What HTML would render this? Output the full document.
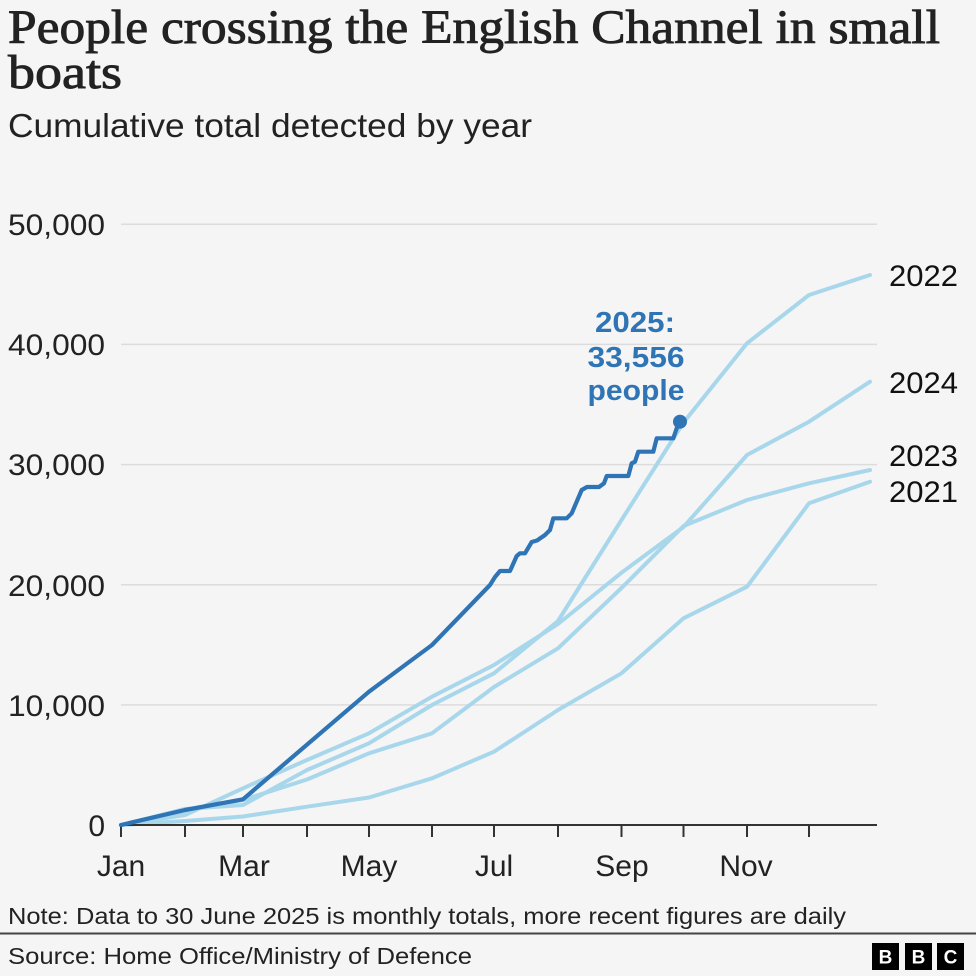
<!DOCTYPE html>
<html>
<head>
<meta charset="utf-8">
<style>
  html,body{margin:0;padding:0;background:#f5f5f5;}
  svg{display:block;}
</style>
</head>
<body>
<svg width="976" height="976" viewBox="0 0 976 976" xmlns="http://www.w3.org/2000/svg">
  <rect x="0" y="0" width="976" height="976" fill="#f5f5f5"/>

  <!-- Title -->
  <g font-family="'Liberation Serif', serif" fill="#222222" stroke="#222222" stroke-width="0.9">
    <text x="8" y="43" font-size="48" textLength="932" lengthAdjust="spacingAndGlyphs">People crossing the English Channel in small</text>
    <text x="8" y="88" font-size="48" textLength="114" lengthAdjust="spacingAndGlyphs">boats</text>
  </g>
  <text x="8" y="137" font-family="'Liberation Sans', sans-serif" font-size="33" fill="#222222" textLength="524" lengthAdjust="spacingAndGlyphs">Cumulative total detected by year</text>

  <!-- Gridlines -->
  <g stroke="#dcdcdc" stroke-width="1.5">
    <line x1="121" y1="224.3" x2="877" y2="224.3"/>
    <line x1="121" y1="344.4" x2="877" y2="344.4"/>
    <line x1="121" y1="464.6" x2="877" y2="464.6"/>
    <line x1="121" y1="584.7" x2="877" y2="584.7"/>
    <line x1="121" y1="704.9" x2="877" y2="704.9"/>
  </g>

  <!-- Y labels -->
  <g font-family="'Liberation Sans', sans-serif" font-size="30" fill="#222222" text-anchor="end">
    <text x="105" y="235" textLength="97" lengthAdjust="spacingAndGlyphs">50,000</text>
    <text x="105" y="355" textLength="97" lengthAdjust="spacingAndGlyphs">40,000</text>
    <text x="105" y="475" textLength="97" lengthAdjust="spacingAndGlyphs">30,000</text>
    <text x="105" y="596" textLength="97" lengthAdjust="spacingAndGlyphs">20,000</text>
    <text x="105" y="716" textLength="97" lengthAdjust="spacingAndGlyphs">10,000</text>
    <text x="105" y="836">0</text>
  </g>

  <!-- Light series -->
  <g fill="none" stroke="#a8d7ec" stroke-width="4" stroke-linejoin="round" stroke-linecap="round">
    <!-- 2021 -->
    <polyline points="121,825 185,821 243,816.5 307,806.7 369,797.5 432,778.3 494,751.7 558,710 621.5,673.3 683.5,618.3 747,586.7 809,503.3 870,481.7"/>
    <!-- 2023 -->
    <polyline points="121,825 185,811 243,800 307,779.5 369,753.3 432,733.3 494,687 558,648.3 621.5,588 683.5,526 747,500 809,483.3 870,470"/>
    <!-- 2024 -->
    <polyline points="121,825 185,815 243,788.3 307,760 369,733.3 432,696.7 494,665 558,624 621.5,572.7 683.5,527 747,455 809,421.7 870,381.7"/>
    <!-- 2022 -->
    <polyline points="121,825 185,809 243,805 307,770 369,743.3 432,705 494,673.3 558,621 621.5,520 683.5,422.5 747,343.3 809,295 870,275"/>
  </g>

  <!-- Axis -->
  <g stroke="#333333" stroke-width="2">
    <line x1="120" y1="825" x2="877" y2="825"/>
    <line x1="121" y1="825" x2="121" y2="837"/>
    <line x1="185" y1="825" x2="185" y2="837"/>
    <line x1="243" y1="825" x2="243" y2="837"/>
    <line x1="307" y1="825" x2="307" y2="837"/>
    <line x1="369" y1="825" x2="369" y2="837"/>
    <line x1="432" y1="825" x2="432" y2="837"/>
    <line x1="494" y1="825" x2="494" y2="837"/>
    <line x1="558" y1="825" x2="558" y2="837"/>
    <line x1="621.5" y1="825" x2="621.5" y2="837"/>
    <line x1="683.5" y1="825" x2="683.5" y2="837"/>
    <line x1="747" y1="825" x2="747" y2="837"/>
    <line x1="809" y1="825" x2="809" y2="837"/>
  </g>

  <!-- 2025 series -->
  <polyline fill="none" stroke="#2f74b5" stroke-width="4.2" stroke-linejoin="round" stroke-linecap="round"
    points="121,825 185,810 243,799.3 369,691.7 432,645 490,585 495,577 500,571 510,571 516.7,556 520,553.3 525,553.3 531.7,542 537,540.5 545,535 550,530 553.3,518.3 566.7,518.3 571.7,513.3 581.7,490 587,487 599,487 604,483.3 606.7,476 628.3,476 631.7,463.3 635,461.7 638.3,451.7 653.3,451.7 656.7,438.3 673.3,438.3 676.7,428.3 680,421.7"/>
  <circle cx="680" cy="421.7" r="7" fill="#2f74b5"/>

  <!-- Annotation -->
  <g font-family="'Liberation Sans', sans-serif" font-size="29" font-weight="bold" fill="#2f74b5" text-anchor="middle">
    <text x="635" y="332" textLength="80" lengthAdjust="spacingAndGlyphs">2025:</text>
    <text x="636" y="367" textLength="97" lengthAdjust="spacingAndGlyphs">33,556</text>
    <text x="636" y="400" textLength="97" lengthAdjust="spacingAndGlyphs">people</text>
  </g>

  <!-- X labels -->
  <g font-family="'Liberation Sans', sans-serif" font-size="30" fill="#222222" text-anchor="middle">
    <text x="121" y="876">Jan</text>
    <text x="244" y="876">Mar</text>
    <text x="369" y="876">May</text>
    <text x="494" y="876">Jul</text>
    <text x="622" y="876">Sep</text>
    <text x="746" y="876">Nov</text>
  </g>

  <!-- Series labels -->
  <g font-family="'Liberation Sans', sans-serif" font-size="30" fill="#111111">
    <text x="889" y="286" textLength="69" lengthAdjust="spacingAndGlyphs">2022</text>
    <text x="889" y="393" textLength="69" lengthAdjust="spacingAndGlyphs">2024</text>
    <text x="889" y="466" textLength="69" lengthAdjust="spacingAndGlyphs">2023</text>
    <text x="889" y="502" textLength="69" lengthAdjust="spacingAndGlyphs">2021</text>
  </g>

  <!-- Footer -->
  <text x="8" y="924" font-family="'Liberation Sans', sans-serif" font-size="23" fill="#222222" textLength="838" lengthAdjust="spacingAndGlyphs">Note: Data to 30 June 2025 is monthly totals, more recent figures are daily</text>
  <line x1="0" y1="933.5" x2="976" y2="933.5" stroke="#444444" stroke-width="2"/>
  <text x="8" y="964" font-family="'Liberation Sans', sans-serif" font-size="23" fill="#222222" textLength="464" lengthAdjust="spacingAndGlyphs">Source: Home Office/Ministry of Defence</text>

  <!-- BBC logo -->
  <g>
    <rect x="872" y="943" width="27" height="27" fill="#000000"/>
    <rect x="905" y="943" width="27" height="27" fill="#000000"/>
    <rect x="937" y="943" width="27" height="27" fill="#000000"/>
    <g font-family="'Liberation Sans', sans-serif" font-size="19" font-weight="bold" fill="#ffffff" text-anchor="middle">
      <text x="885.5" y="963.5">B</text>
      <text x="918.5" y="963.5">B</text>
      <text x="950.5" y="963.5">C</text>
    </g>
  </g>
</svg>
</body>
</html>
